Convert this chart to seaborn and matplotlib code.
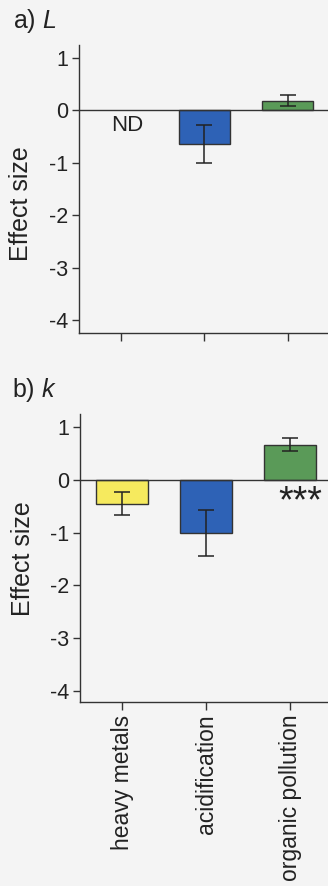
import numpy as np
import pandas as pd
import matplotlib
matplotlib.use("Agg")
import matplotlib.pyplot as plt
import seaborn as sns

# ---- data ----
categories = ["heavy metals", "acidification", "organic pollution"]
colors = ["#f6ea5e", "#2e62b6", "#5a9a58"]

L_mean = [np.nan, -0.65, 0.19]
L_low = [np.nan, -1.00, 0.08]
L_high = [np.nan, -0.28, 0.30]

k_mean = [-0.45, -1.00, 0.66]
k_low = [-0.67, -1.44, 0.55]
k_high = [-0.23, -0.57, 0.80]

yticks = [1, 0, -1, -2, -3, -4]

sns.set_theme(style="ticks")
plt.rcParams["font.family"] = ["Liberation Sans", "DejaVu Sans"]
plt.rcParams["mathtext.fontset"] = "custom"
plt.rcParams["mathtext.it"] = "Liberation Sans:italic"
plt.rcParams["mathtext.rm"] = "Liberation Sans"

W, H = 328, 886
bg = "#f4f4f4"
fig = plt.figure(figsize=(W / 100, H / 100), dpi=100, facecolor=bg)


def px_axes(left, top, width, height):
    return fig.add_axes([left / W, (H - top - height) / H, width / W, height / H])


def panel(ax, means, lows, highs, ylim, show_labels):
    df = pd.DataFrame({"cat": categories, "val": means})
    sns.barplot(data=df, x="cat", y="val", hue="cat", order=categories,
                hue_order=categories, palette=colors, errorbar=None,
                saturation=1, width=0.61, edgecolor="#333333", linewidth=1.0,
                legend=False, ax=ax)
    m = np.array(means, dtype=float)
    lo = np.array(lows, dtype=float)
    hi = np.array(highs, dtype=float)
    xs = np.arange(len(categories))
    ok = ~np.isnan(m)
    ax.errorbar(xs[ok], m[ok], yerr=[m[ok] - lo[ok], hi[ok] - m[ok]],
                fmt="none", ecolor="#222222", elinewidth=1.1, capsize=6,
                capthick=1.1, zorder=5)
    ax.axhline(0, color="#333333", lw=1.0, zorder=4)
    ax.set_xlim(-0.5, 2.5)
    ax.set_ylim(*ylim)
    ax.set_yticks(yticks)
    ax.set_yticklabels([str(t) for t in yticks])
    ax.set_facecolor(bg)
    sns.despine(ax=ax)
    for s in ["left", "bottom"]:
        ax.spines[s].set_color("#333333")
        ax.spines[s].set_linewidth(1.0)
    ax.tick_params(axis="y", length=5, width=1.0, color="#333333",
                   labelsize=15.5, labelcolor="#222222", pad=3)
    ax.tick_params(axis="x", length=6, width=1.0, color="#333333",
                   labelsize=16.5, labelcolor="#222222", pad=3)
    ax.set_xlabel("")
    ax.set_ylabel("Effect size", fontsize=18, color="#222222")
    ax.set_xticks(xs)
    if show_labels:
        ax.set_xticklabels(categories, rotation=90, va="top", ha="center")
    else:
        ax.set_xticklabels([])


ax1 = px_axes(79, 45, 250.5, 288)
panel(ax1, L_mean, L_low, L_high, (-4.25, 1.25), False)
ax1.yaxis.set_label_coords(-0.184, 0.45)
ax1.text(0.075, -0.29, "ND", fontsize=16, ha="center", va="center",
         color="#222222")

ax2 = px_axes(80, 414, 252, 288)
panel(ax2, k_mean, k_low, k_high, (-4.21, 1.25), True)
ax2.yaxis.set_label_coords(-0.179, 0.497)
ax2.text(2.12, -0.42, "***", fontsize=27, ha="center", va="center",
         color="#222222")

fig.text(13 / W, 1 - 28 / H, r"a) $\mathit{L}$", fontsize=18,
         ha="left", va="baseline", color="#222222")
fig.text(12 / W, 1 - 397 / H, r"b) $\mathit{k}$", fontsize=18,
         ha="left", va="baseline", color="#222222")

fig.savefig("out.png", dpi=100, facecolor=bg)
